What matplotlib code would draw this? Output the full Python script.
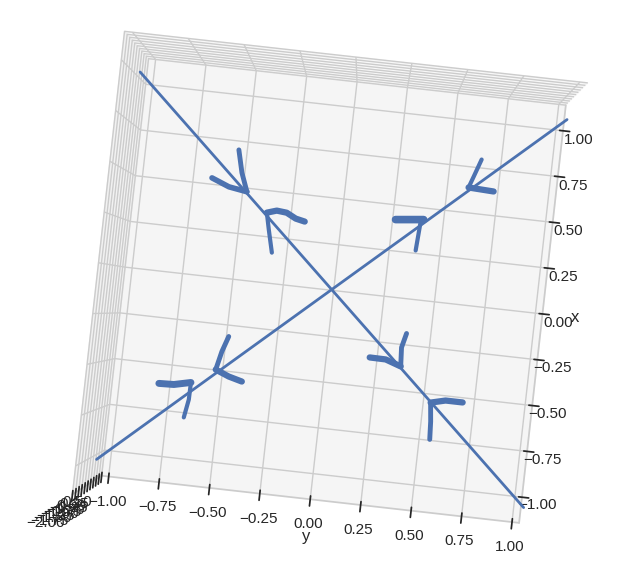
import numpy as np
import matplotlib
matplotlib.use("Agg")
import matplotlib.pyplot as plt
import seaborn as sns

arm_x = [1.0, -1.0]
arm_y1 = [1.0, -1.0]
arm_y2 = [-1.0, 1.0]
arm_z = [-0.9, -0.9]

# short strokes around each arm point
a1_x = [0.659, 0.544, 0.450]
a1_y = [-0.502, -0.476, -0.443]
a2_x = [0.501, 0.465, 0.450]
a2_y = [-0.612, -0.529, -0.443]
b1_x = [0.355, 0.371, 0.366, 0.341, 0.331]
b1_y = [-0.340, -0.295, -0.248, -0.203, -0.160]
b2_x = [0.355, 0.269, 0.154]
b2_y = [-0.340, -0.322, -0.296]
c1_x = [0.409, 0.393]
c1_y = [0.389, 0.259]
c2_x = [0.392, 0.247]
c2_y = [0.376, 0.368]
d1_x = [0.598, 0.592]
d1_y = [0.580, 0.698]
d2_x = [0.598, 0.656, 0.748]
d2_y = [0.580, 0.598, 0.626]
e1_x = [-0.474, -0.502, -0.520]
e1_y = [-0.495, -0.431, -0.368]
e2_x = [-0.474, -0.379, -0.298]
e2_y = [-0.495, -0.476, -0.452]
f1_x = [-0.554, -0.574, -0.577]
f1_y = [-0.603, -0.681, -0.751]
f2_x = [-0.554, -0.642, -0.736]
f2_y = [-0.603, -0.604, -0.618]
g1_x = [-0.352, -0.325, -0.324]
g1_y = [0.359, 0.286, 0.211]
g2_x = [-0.352, -0.255, -0.181]
g2_y = [0.359, 0.353, 0.369]
h1_x = [-0.519, -0.500, -0.500]
h1_y = [0.516, 0.584, 0.664]
h2_x = [-0.519, -0.615, -0.707]
h2_y = [0.516, 0.526, 0.531]

strokes = [(a1_x, a1_y, 3.5), (a2_x, a2_y, 4), (b1_x, b1_y, 4.5), (b2_x, b2_y, 3),
           (c1_x, c1_y, 5.5), (c2_x, c2_y, 3), (d1_x, d1_y, 4.5), (d2_x, d2_y, 3),
           (e1_x, e1_y, 4.5), (e2_x, e2_y, 3.5), (f1_x, f1_y, 5), (f2_x, f2_y, 3),
           (g1_x, g1_y, 4.5), (g2_x, g2_y, 3.5), (h1_x, h1_y, 4.5), (h2_x, h2_y, 3.5)]

sns.set_theme(style="whitegrid")
plt.rcParams['font.family'] = ['Liberation Sans', 'DejaVu Sans']

fig = plt.figure(figsize=(6.39, 5.87), dpi=100)
ax = fig.add_subplot(111, projection='3d')
ax.set_position([0.007, -0.007, 1, 1])
ax.plot(arm_x, arm_y1, arm_z, color='#4c72b0', lw=2)
ax.plot(arm_x, arm_y2, arm_z, color='#4c72b0', lw=2)
for sx, sy, w in strokes:
    ax.plot(sx, sy, [arm_z[0]] * len(sx), color='#4c72b0', lw=w, solid_capstyle='round')
ax.set_xlim(-1.14, 1.14)
ax.set_ylim(-1.035, 1.035)
ax.set_zlim(-2.0, 0.5)
ax.set_xticks(np.arange(-1, 1.01, 0.25))
ax.set_yticks(np.arange(-1, 1.01, 0.25))
ax.set_zticks(np.arange(-2, 0.51, 0.25))
ax.set_xlabel('x', labelpad=-3)
ax.set_ylabel('y', labelpad=0)
ax.tick_params(axis='x', pad=0.5)
ax.tick_params(axis='y', pad=2)
ax.set_box_aspect((4, 4, 3), zoom=1.17)
ax.view_init(elev=-90.7, azim=-70, roll=63.6)
fig.savefig('out.png', dpi=100)
